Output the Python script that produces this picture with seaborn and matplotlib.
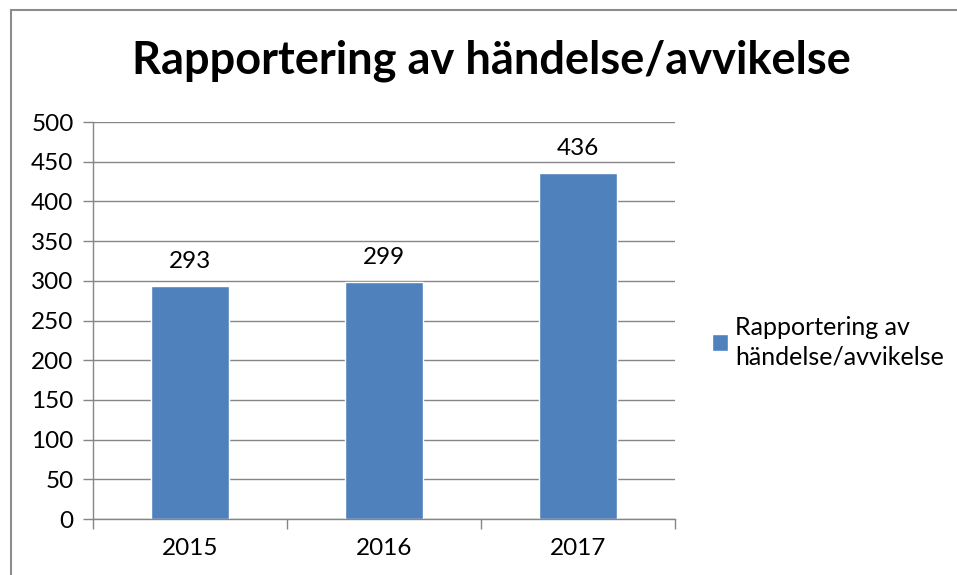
import matplotlib
matplotlib.use('Agg')
import matplotlib.pyplot as plt
import seaborn as sns
import pandas as pd
from matplotlib.patches import Rectangle, Patch

years = ['2015', '2016', '2017']
values = [293, 299, 436]
series_name = 'Rapportering av händelse/avvikelse'
legend_label = 'Rapportering av\nhändelse/avvikelse'
yticks = list(range(0, 501, 50))

BAR_COLOR = '#4F81BD'
GRID_COLOR = '#868686'
FS = 17.5

df = pd.DataFrame({'År': years, 'Antal': values})

sns.set_style('white')
plt.rcParams['font.family'] = ['Lato', 'DejaVu Sans']
plt.rcParams['text.color'] = 'black'
plt.rcParams['xtick.color'] = 'black'
plt.rcParams['ytick.color'] = 'black'

W, H = 957, 575
fig = plt.figure(figsize=(W / 100, H / 100), dpi=100)

# chart frame (cut at right and bottom edges)
fig.patches.append(Rectangle((11 / W, -0.1), 1.2, 1 - 10 / H + 0.1,
                             transform=fig.transFigure, fill=False,
                             edgecolor='#8c8c8c', linewidth=1.5))

ax = fig.add_axes([93 / W, (H - 519) / H, (675 - 93) / W, (519 - 122) / H])
sns.barplot(data=df, x='År', y='Antal', color=BAR_COLOR, width=0.4,
            saturation=1, ax=ax)

ax.set_ylim(0, 500)
ax.set_xlim(-0.5, 2.5)
ax.set_yticks(yticks)
ax.set_yticklabels([str(t) for t in yticks], fontsize=FS)
ax.set_xticks(range(len(years)))
ax.set_xticklabels(years, fontsize=FS)
ax.set_xlabel('')
ax.set_ylabel('')
ax.yaxis.grid(True, color=GRID_COLOR, linewidth=1)
ax.set_axisbelow(True)

for side in ['top', 'right']:
    ax.spines[side].set_visible(False)
for side in ['left', 'bottom']:
    ax.spines[side].set_color(GRID_COLOR)
    ax.spines[side].set_linewidth(1)

ax.tick_params(axis='y', length=7, width=1, color=GRID_COLOR, pad=7, left=True,
               labelcolor='black')
ax.tick_params(axis='x', length=0, pad=14, labelcolor='black')
# category boundary ticks on x axis
ax.set_xticks([-0.5, 0.5, 1.5, 2.5], minor=True)
ax.tick_params(axis='x', which='minor', length=7, width=1, color=GRID_COLOR,
               direction='out', bottom=True)

for i, v in enumerate(values):
    ax.annotate(str(v), (i, v), xytext=(0, 10), textcoords='offset points',
                ha='center', va='bottom', fontsize=FS, color='black')

fig.text(491 / W, 1 - 61 / H, series_name, ha='center', va='center',
         fontsize=32.5, fontweight='bold', color='black')

leg = fig.legend(handles=[Patch(facecolor=BAR_COLOR, label=legend_label)],
                 loc='center left', bbox_to_anchor=(689 / W, 1 - 342 / H),
                 frameon=False, fontsize=18, handlelength=0.65,
                 handleheight=0.65, handletextpad=0.3)
for t in leg.get_texts():
    t.set_linespacing(1.35)
    t.set_color('black')

fig.savefig('out.png', dpi=100)
